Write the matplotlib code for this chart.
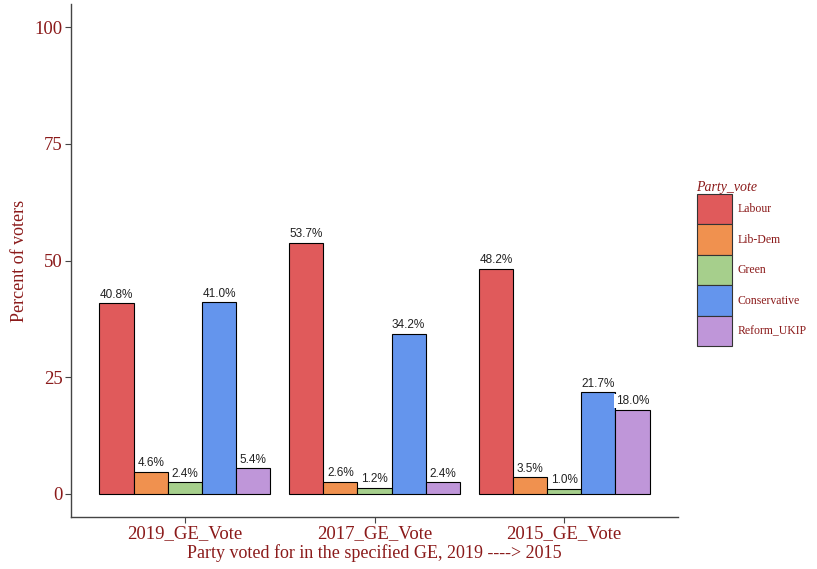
import numpy as np
import matplotlib.pyplot as plt
from matplotlib.patches import Patch

elections = ["2019_GE_Vote", "2017_GE_Vote", "2015_GE_Vote"]
parties = ["Labour", "Lib-Dem", "Green", "Conservative", "Reform_UKIP"]
colors = ["#E05A5B", "#F0914F", "#A6CF8C", "#6495ED", "#BF96D9"]

# percent of voters, one list per party (2019, 2017, 2015)
labour = [40.8, 53.7, 48.2]
libdem = [4.6, 2.6, 3.5]
green = [2.4, 1.2, 1.0]
conservative = [41.0, 34.2, 21.7]
reform = [5.4, 2.4, 18.0]
values = [labour, libdem, green, conservative, reform]

red = "#8B1A1A"
serif = ["Liberation Serif", "DejaVu Serif"]

fig = plt.figure(figsize=(8.17, 5.69), dpi=100)
ax = fig.add_axes([71 / 817, 52 / 569, (678 - 71) / 817, (517 - 4) / 569])

x = np.arange(1, len(elections) + 1)
n = len(parties)
w = 0.9 / n
for i, (party, vals) in enumerate(zip(parties, values)):
    pos = x - 0.45 + w * (i + 0.5)
    ax.bar(pos, vals, width=w, color=colors[i], edgecolor="black", linewidth=0.8, label=party)
    for px, v in zip(pos, vals):
        ax.annotate(f"{v:.1f}%", (px, v), xytext=(0, 2), textcoords="offset points",
                    ha="center", va="bottom", fontsize=8.5, color="#222222",
                    family=["Liberation Sans", "DejaVu Sans"],
                    bbox=dict(boxstyle="square,pad=0.12", fc="white", ec="none"))

ax.set_xlim(0.4, 3.6)
ax.set_ylim(-5, 105)
ax.set_yticks([0, 25, 50, 75, 100])
ax.set_xticks(x)
ax.set_xticklabels(elections)
for s in ["top", "right"]:
    ax.spines[s].set_visible(False)
for s in ["left", "bottom"]:
    ax.spines[s].set_color("#444444")
    ax.spines[s].set_linewidth(1.0)
ax.tick_params(colors="#444444", labelcolor=red, labelsize=13.5, length=4, pad=2)
for lab in ax.get_xticklabels() + ax.get_yticklabels():
    lab.set_family(serif)

ax.set_xlabel("Party voted for in the specified GE, 2019 ----> 2015", color=red,
              fontsize=13, family=serif, labelpad=1)
ax.set_ylabel("Percent of voters", color=red, fontsize=13, family=serif, labelpad=5)

handles = [Patch(facecolor=c, edgecolor="#333333", linewidth=0.8) for c in colors]
leg = fig.legend(handles, parties, loc="upper left", bbox_to_anchor=(693 / 817, 1 - 177 / 569),
                 frameon=False, labelcolor=red, handlelength=3.0, handleheight=3.6,
                 labelspacing=0.0, handletextpad=0.5, borderaxespad=0, borderpad=0.3,
                 prop={"family": serif, "size": 8.5}, title="Party_vote",
                 title_fontproperties={"family": serif, "size": 10, "style": "italic"})
leg.get_title().set_color(red)
leg._legend_box.align = "left"

fig.savefig("out.png", dpi=100)
